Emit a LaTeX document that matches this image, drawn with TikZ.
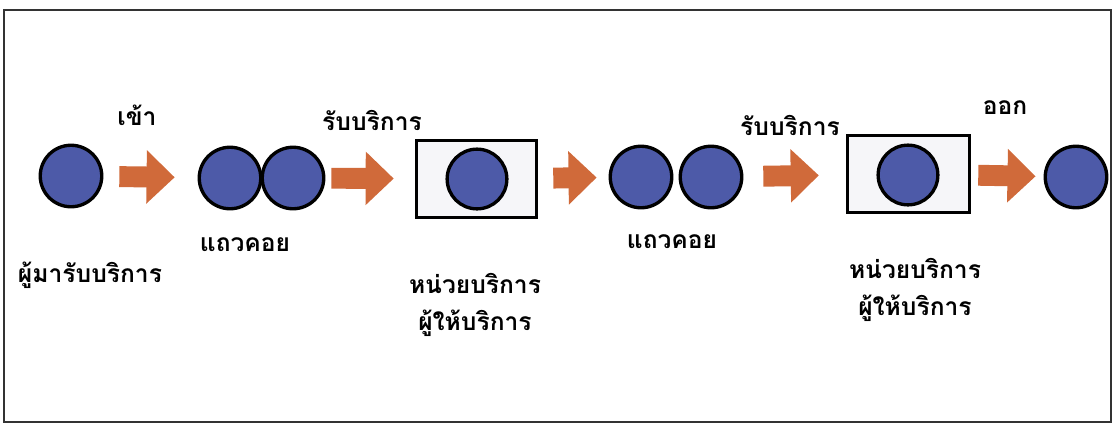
\documentclass[tikz,border=0pt]{standalone}
\usepackage{fontspec}
\newfontfamily\thaifont[Script=Thai]{Loma}
\usetikzlibrary{arrows.meta}
\definecolor{ballblue}{HTML}{4D5AA8}
\definecolor{arroworange}{HTML}{D06A3A}
\definecolor{boxfill}{HTML}{F6F6F9}
\tikzset{
  ball/.style={circle, draw=black, line width=1.9pt, fill=ballblue, minimum size=35pt, inner sep=0pt},
  server/.style={rectangle, draw=black, line width=1.8pt, fill=boxfill, inner sep=0pt},
  lbl/.style={font=\thaifont\bfseries\fontsize{14pt}{16pt}\selectfont, inner sep=0pt, text=black},
  bigarrow/.style={draw=arroworange, line width=11.9pt, -{Triangle[length=16pt 0 0, width=29.5pt 0 0]}},
}
\begin{document}
\begin{tikzpicture}[x=0.02cm, y=-0.02cm]
\useasboundingbox (0,0) rectangle (1116,427);
\draw[line width=0.9pt, black!80] (4,10) rectangle (1111,422);
% servers
\node[server, minimum width=68.6pt, minimum height=44.2pt] (b1) at (476.5,179) {};
\node[server, minimum width=69.7pt, minimum height=44.2pt] (b2) at (908.5,174) {};
% balls
\node[ball] (c0) at (71,176) {};
\node[ball] (q1a) at (230,178) {};
\node[ball] (q1b) at (293,178) {};
\node[ball, minimum size=34pt] (s1) at (477,179) {};
\node[ball] (q2a) at (641,177) {};
\node[ball] (q2b) at (711,177) {};
\node[ball, minimum size=34pt] (s2) at (908,175) {};
\node[ball] (out) at (1076,177) {};
% arrows
\draw[bigarrow, shorten <=9.07pt, shorten >=13.04pt] (c0) -- (q1a);
\draw[bigarrow, shorten <=3.4pt, shorten >=11.9pt] (q1b) -- (b1);
\draw[bigarrow, shorten <=8.5pt, shorten >=6.8pt] (b1) -- (q2a);
\draw[bigarrow, shorten <=11.34pt, shorten >=15.3pt] (q2b) -- (b2);
\draw[bigarrow, shorten <=3.97pt, shorten >=4.54pt] (b2) -- (out);
% labels
\node[lbl] (t1) at (137,115) {เข้า};
\node[lbl] (t2) at (372,120) {รับบริการ};
\node[lbl] (t3) at (245,245) {แถวคอย};
\node[lbl] (t4) at (90,275) {ผู้มารับบริการ};
\node[lbl] (t5) at (475,283) {หน่วยบริการ};
\node[lbl] (t6) at (475,323) {ผู้ให้บริการ};
\node[lbl] (t7) at (672,242) {แถวคอย};
\node[lbl] (t8) at (790,125) {รับบริการ};
\node[lbl] (t9) at (1005,108) {ออก};
\node[lbl] (t10) at (915,268) {หน่วยบริการ};
\node[lbl] (t11) at (915,308) {ผู้ให้บริการ};
\end{tikzpicture}
\end{document}
